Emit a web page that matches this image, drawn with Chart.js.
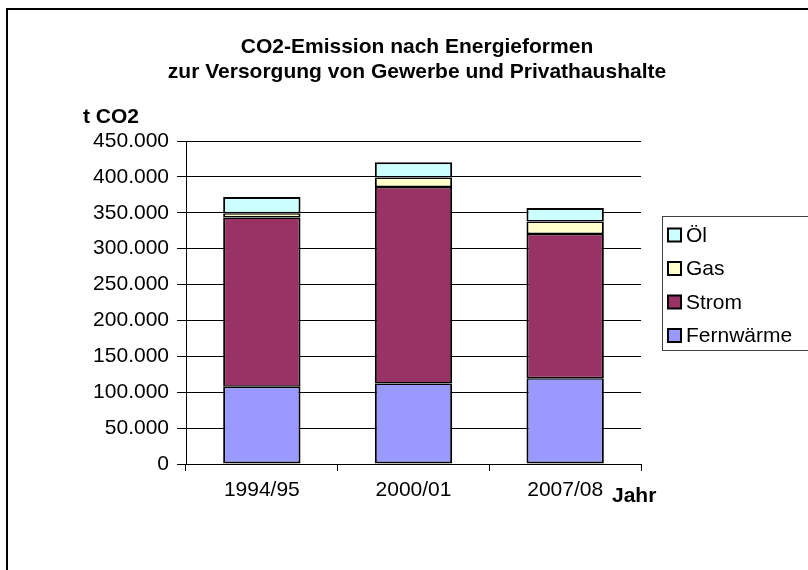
<!DOCTYPE html>
<html lang="de">
<head>
<meta charset="utf-8">
<title>CO2-Emission nach Energieformen</title>
<script src="https://cdn.jsdelivr.net/npm/chart.js@4.4.1/dist/chart.umd.min.js"></script>
<style>
  html, body { margin: 0; padding: 0; background: #fff; overflow: hidden; }
</style>
</head>
<body>
<canvas id="co2Chart" width="808" height="570"></canvas>
<script>
// Erhebungsjahre und Emissionen in t CO2 je Energieform
const years = ['1994/95', '2000/01', '2007/08'];
const fernwaerme = [107500, 112000, 119500];
const strom = [236000, 274000, 201000];
const gas = [6000, 13000, 17500];
const oel = [22500, 21500, 18500];
const yTickValues = [0, 50000, 100000, 150000, 200000, 250000, 300000, 350000, 400000, 450000];

const titleLines = ['CO2-Emission nach Energieformen', 'zur Versorgung von Gewerbe und Privathaushalte'];

const FONT = "'Liberation Sans', Arial, sans-serif";

// 450000 -> "450.000"
function formatDE(v) {
    return String(v).replace(/\B(?=(\d{3})+(?!\d))/g, '.');
}

// Rahmen, Titel, Legende und Achsenbeschriftungen werden direkt gezeichnet
const framePlugin = {
    id: 'frame',
    beforeDraw(chart) {
        const ctx = chart.ctx;
        ctx.save();
        ctx.fillStyle = '#fff';
        ctx.fillRect(0, 0, chart.width, chart.height);
        ctx.strokeStyle = '#000';
        ctx.lineWidth = 2;
        ctx.strokeRect(7, 9, chart.width + 20, chart.height + 20);
        ctx.restore();
    },
    afterDraw(chart) {
        const ctx = chart.ctx;
        ctx.save();
        ctx.fillStyle = '#000';
        ctx.textBaseline = 'middle';

        // Titel, zweizeilig
        ctx.font = `bold 21px ${FONT}`;
        ctx.textAlign = 'center';
        titleLines.forEach((line, i) => ctx.fillText(line, 417, 47 + i * 25));

        // Legende (oberste Schicht zuerst)
        ctx.strokeStyle = '#404040';
        ctx.lineWidth = 1;
        ctx.strokeRect(662.5, 216.5, 160, 134);
        ctx.font = `21px ${FONT}`;
        ctx.textAlign = 'left';
        chart.data.datasets.slice().reverse().forEach((ds, i) => {
            const cy = 235 + i * 33.5;
            ctx.fillStyle = ds.backgroundColor;
            ctx.fillRect(668, cy - 6.5, 13, 13);
            ctx.strokeStyle = '#000';
            ctx.lineWidth = 2;
            ctx.strokeRect(668, cy - 6.5, 13, 13);
            ctx.fillStyle = '#000';
            ctx.fillText(ds.label, 686, cy + 1);
        });

        // Achsentitel
        ctx.font = `bold 21px ${FONT}`;
        ctx.fillText('t CO2', 83, 117);
        ctx.fillText('Jahr', 612, 496);
        ctx.restore();
    }
};

const segments = [
    { label: 'Fernwärme', data: fernwaerme, backgroundColor: '#9999FF' },
    { label: 'Strom', data: strom, backgroundColor: '#993366' },
    { label: 'Gas', data: gas, backgroundColor: '#FFFFCC' },
    { label: 'Öl', data: oel, backgroundColor: '#CCFFFF' }
];

new Chart(document.getElementById('co2Chart'), {
    type: 'bar',
    data: {
        labels: years,
        // Außenkanten 2px, Trennlinien zwischen den Segmenten zusammen 3px
        datasets: segments.map((d, i) => Object.assign(d, {
            borderColor: '#000',
            borderWidth: {
                left: 2,
                right: 2,
                bottom: i === 0 ? 2 : 1.5,
                top: i === segments.length - 1 ? 2 : 1.5
            },
            borderSkipped: false,
            barPercentage: 0.51,
            categoryPercentage: 1.0
        }))
    },
    options: {
        responsive: false,
        animation: false,
        // Platz für Titel oben und Legende rechts
        layout: { padding: { left: 0, right: 167, top: 141, bottom: 0 } },
        plugins: {
            legend: { display: false },
            title: { display: false },
            tooltip: { enabled: false }
        },
        scales: {
            x: {
                stacked: true,
                grid: { drawOnChartArea: false, drawTicks: true, tickLength: 7, color: '#000', offset: true },
                border: { color: '#000', width: 1 },
                ticks: { color: '#000', font: { family: FONT, size: 21 }, padding: 7, maxRotation: 0 },
                afterFit(scale) { scale.height = 106; }
            },
            y: {
                stacked: true,
                min: 0,
                max: 450000,
                grid: { color: '#000', lineWidth: 1, tickLength: 9 },
                border: { color: '#000', width: 1 },
                ticks: { color: '#000', font: { family: FONT, size: 21 }, padding: 8, callback: v => formatDE(v) },
                afterBuildTicks(scale) { scale.ticks = yTickValues.map(v => ({ value: v })); },
                afterFit(scale) { scale.width = 186; }
            }
        }
    },
    plugins: [framePlugin]
});
</script>
</body>
</html>
